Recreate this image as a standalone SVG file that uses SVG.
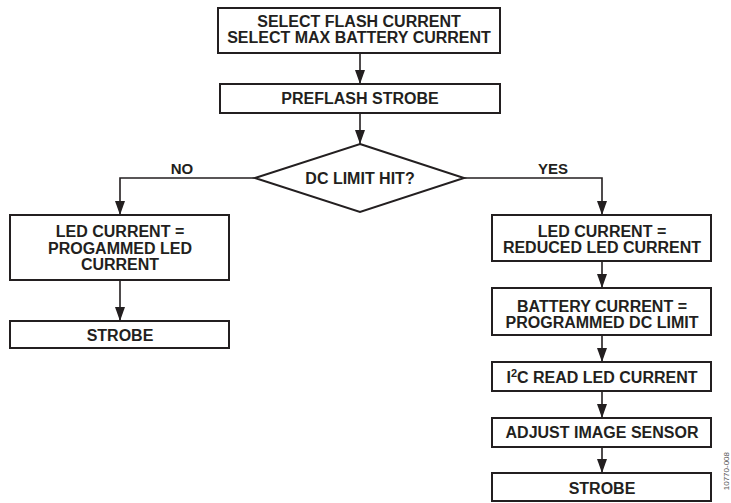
<svg xmlns="http://www.w3.org/2000/svg" width="731" height="503" viewBox="0 0 731 503">
<style>
.box{fill:#fff;stroke:#231f20;stroke-width:2}
.t{font-family:"Liberation Sans",Arial,sans-serif;font-weight:bold;font-size:16px;fill:#231f20;text-anchor:middle}
.c{fill:none;stroke:#231f20;stroke-width:1.6}
.lbl{font-family:"Liberation Sans",Arial,sans-serif;font-weight:bold;font-size:15px;fill:#231f20;text-anchor:middle}
</style>
<defs>
<marker id="ah" viewBox="0 0 14 10" refX="14" refY="5" markerWidth="14" markerHeight="10" markerUnits="userSpaceOnUse" orient="auto">
<path d="M0,0 L14,5 L0,10 Z" fill="#231f20"/>
</marker>
</defs>
<rect width="731" height="503" fill="#fff"/>
<g id="connectors">
<line class="c" x1="360" y1="53" x2="360" y2="84" marker-end="url(#ah)"/>
<line class="c" x1="360" y1="113" x2="360" y2="144" marker-end="url(#ah)"/>
<polyline class="c" points="255,178 120,178 120,215" marker-end="url(#ah)"/>
<polyline class="c" points="464,178 602,178 602,215" marker-end="url(#ah)"/>
<line class="c" x1="120" y1="280" x2="120" y2="321" marker-end="url(#ah)"/>
<line class="c" x1="602" y1="261" x2="602" y2="288" marker-end="url(#ah)"/>
<line class="c" x1="602" y1="335" x2="602" y2="362" marker-end="url(#ah)"/>
<line class="c" x1="602" y1="391" x2="602" y2="418" marker-end="url(#ah)"/>
<line class="c" x1="602" y1="447" x2="602" y2="473" marker-end="url(#ah)"/>
<text class="lbl" x="182" y="174">NO</text>
<text class="lbl" x="553" y="174">YES</text>
</g>
<g id="select">
<rect class="box" x="218" y="8" width="282" height="45"/>
<text class="t" x="359" y="27">SELECT FLASH CURRENT</text>
<text class="t" x="359" y="43">SELECT MAX BATTERY CURRENT</text>
</g>
<g id="preflash">
<rect class="box" x="220" y="84" width="280" height="29"/>
<text class="t" x="360" y="104">PREFLASH STROBE</text>
</g>
<g id="decision">
<polygon class="box" points="360,144 464,178 360,212 255,178"/>
<text class="t" x="360" y="184">DC LIMIT HIT?</text>
</g>
<g id="led-prog">
<rect class="box" x="10" y="215" width="219" height="65"/>
<text class="t" x="120" y="237">LED CURRENT =</text>
<text class="t" x="120" y="254">PROGAMMED LED</text>
<text class="t" x="120" y="270">CURRENT</text>
</g>
<g id="strobe-left">
<rect class="box" x="10" y="321" width="219" height="27"/>
<text class="t" x="120" y="341">STROBE</text>
</g>
<g id="led-reduced">
<rect class="box" x="492" y="215" width="219" height="46"/>
<text class="t" x="602" y="237">LED CURRENT =</text>
<text class="t" x="602" y="253">REDUCED LED CURRENT</text>
</g>
<g id="battery">
<rect class="box" x="492" y="288" width="219" height="47"/>
<text class="t" x="602" y="312">BATTERY CURRENT =</text>
<text class="t" x="602" y="328">PROGRAMMED DC LIMIT</text>
</g>
<g id="i2c">
<rect class="box" x="492" y="362" width="219" height="29"/>
<text class="t" x="602" y="383">I<tspan font-size="11" dy="-6">2</tspan><tspan dy="6">C READ LED CURRENT</tspan></text>
</g>
<g id="adjust">
<rect class="box" x="492" y="418" width="219" height="29"/>
<text class="t" x="602" y="438">ADJUST IMAGE SENSOR</text>
</g>
<g id="strobe-right">
<rect class="box" x="492" y="473" width="219" height="28"/>
<text class="t" x="602" y="494">STROBE</text>
</g>
<text x="729" y="452" transform="rotate(-90 729 452)" font-family="'Liberation Sans',Arial,sans-serif" font-size="8" fill="#555" text-anchor="end">10770-008</text>
</svg>
